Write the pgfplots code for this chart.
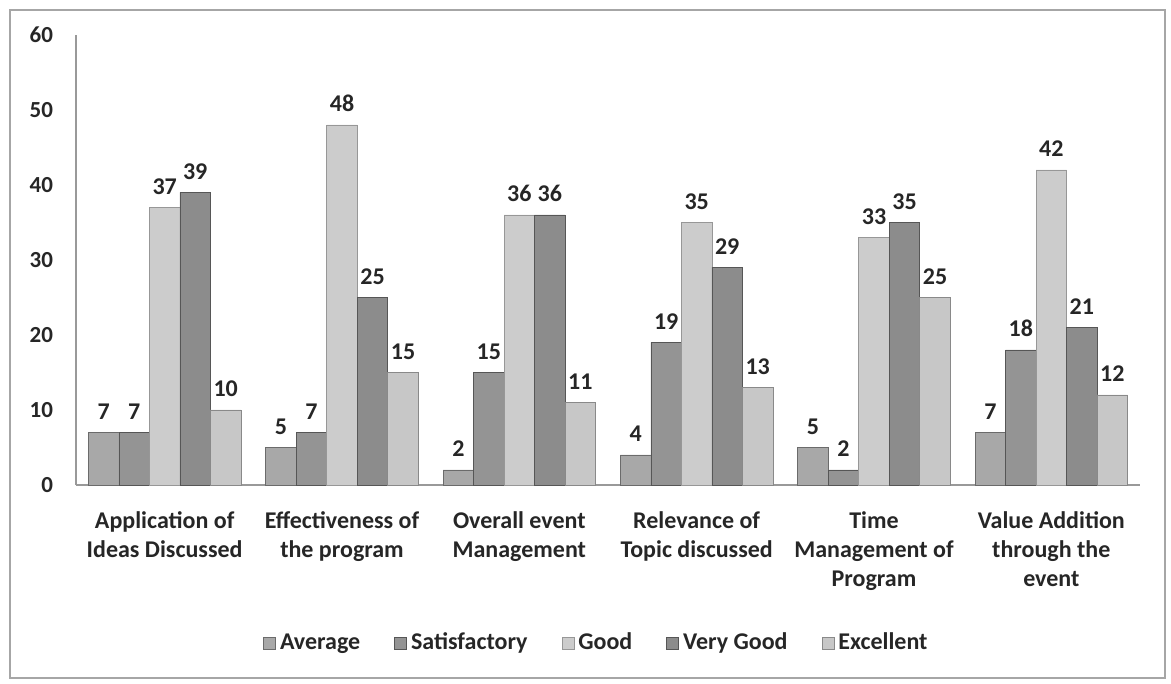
\documentclass[border=0pt]{standalone}
\usepackage{fontspec}
\setmainfont{Carlito}
\usepackage{pgfplots}
\pgfplotsset{compat=1.18}
\definecolor{cAvg}{gray}{0.66}
\definecolor{cSat}{gray}{0.58}
\definecolor{cGood}{gray}{0.80}
\definecolor{cVG}{gray}{0.55}
\definecolor{cExc}{gray}{0.78}
\definecolor{cEdge}{gray}{0.42}
\begin{document}
\begin{tikzpicture}
\path[use as bounding box] (-38pt,-99.5pt) rectangle (547.5pt,242.5pt);
\draw[gray!70, line width=0.8pt] (-33pt,-96.5pt) rectangle (544.5pt,237.5pt);
\begin{axis}[
  at={(0,0)}, anchor=south west,
  scale only axis, width=532pt, height=225pt,
  ybar=0pt, bar width=15.25pt,
  xmin=-0.5, xmax=5.5, ymin=0, ymax=60,
  xtick={0,1,2,3,4,5},
  xticklabels={Application of\\Ideas Discussed, Effectiveness of\\the program, Overall event\\Management, Relevance of\\Topic discussed, Time\\Management of\\Program, Value Addition\\through the\\event},
  xticklabel style={align=center, font=\fontsize{12}{14.5}\selectfont\bfseries, text=black!85, yshift=-10pt},
  ytick={0,10,20,30,40,50,60},
  yticklabel style={font=\fontsize{11.5}{12}\selectfont\bfseries, text=black!85, xshift=-8pt},
  /pgf/number format/assume math mode=true,
  major tick length=0pt,
  axis x line*=bottom, axis y line*=left,
  axis line style={gray!80, line width=0.8pt},
  nodes near coords,
  every node near coord/.append style={font=\fontsize{12}{12}\selectfont\bfseries, text=black!85, yshift=3pt},
  legend columns=-1,
  legend style={at={(0.49,0)}, anchor=center, yshift=-79pt, draw=none, fill=none,
    font=\fontsize{12}{14}\selectfont\bfseries, text=black!85,
    /tikz/every even column/.append style={column sep=15pt}},
  legend image code/.code={\draw[#1] (0pt,-3pt) rectangle (6pt,3pt);},
]
\addplot[fill=cAvg, draw=cEdge] coordinates {(0,7) (1,5) (2,2) (3,4) (4,5) (5,7)};
\addplot[fill=cSat, draw=cEdge!80!black] coordinates {(0,7) (1,7) (2,15) (3,19) (4,2) (5,18)};
\addplot[fill=cGood, draw=cEdge!70] coordinates {(0,37) (1,48) (2,36) (3,35) (4,33) (5,42)};
\addplot[fill=cVG, draw=cEdge!80!black] coordinates {(0,39) (1,25) (2,36) (3,29) (4,35) (5,21)};
\addplot[fill=cExc, draw=cEdge!80] coordinates {(0,10) (1,15) (2,11) (3,13) (4,25) (5,12)};
\legend{Average, Satisfactory, Good, Very Good, Excellent}
\end{axis}
\end{tikzpicture}
\end{document}
